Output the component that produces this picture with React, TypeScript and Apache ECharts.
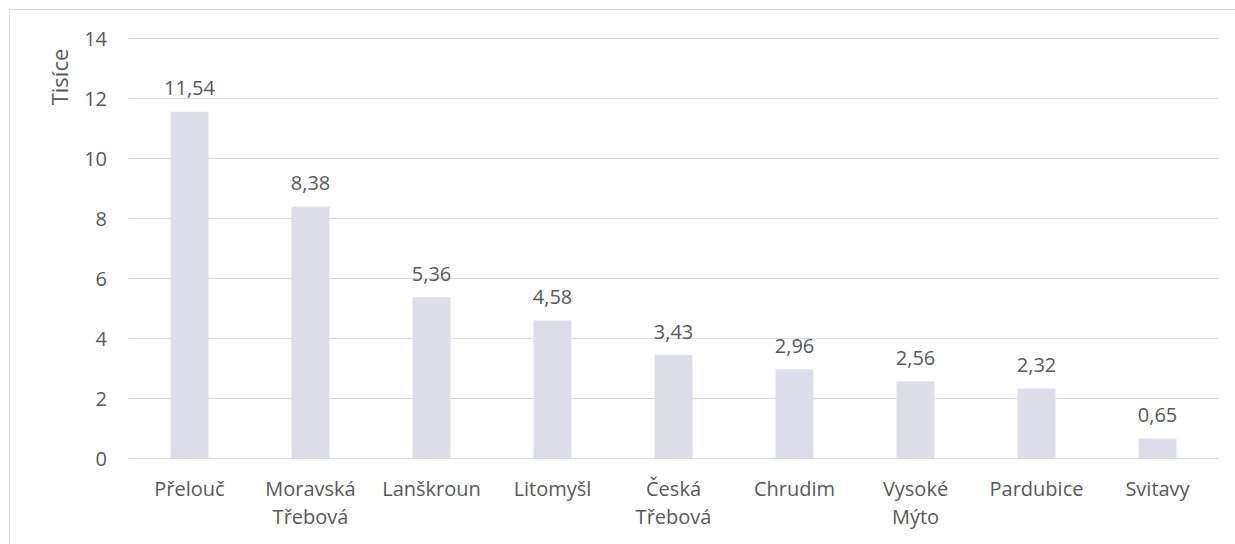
import React, { useEffect, useRef } from "react";
import * as echarts from "echarts";

const categories = [
  "Přelouč",
  "Moravská\nTřebová",
  "Lanškroun",
  "Litomyšl",
  "Česká\nTřebová",
  "Chrudim",
  "Vysoké\nMýto",
  "Pardubice",
  "Svitavy",
];
const values = [11.54, 8.38, 5.36, 4.58, 3.43, 2.96, 2.56, 2.32, 0.65];
const axisTitle = "Tisíce";

const FONT = "'Open Sans', sans-serif";
const TXT = "#595959";

export default function App() {
  const ref = useRef<HTMLDivElement>(null);
  useEffect(() => {
    if (!ref.current) return;
    const chart = echarts.init(ref.current, null, { renderer: "svg" });
    chart.setOption({
      animation: false,
      backgroundColor: "#ffffff",
      grid: { left: 129, right: 17, top: 38, bottom: 86 },
      xAxis: {
        type: "category",
        data: categories,
        axisLine: { lineStyle: { color: "#d9d9d9", width: 1 } },
        axisTick: { show: false },
        axisLabel: {
          color: TXT,
          fontFamily: FONT,
          fontSize: 20,
          lineHeight: 28,
          margin: 16,
          interval: 0,
        },
      },
      yAxis: {
        type: "value",
        min: 0,
        max: 14,
        interval: 2,
        axisLine: { show: false },
        axisTick: { show: false },
        splitLine: { lineStyle: { color: "#d9d9d9", width: 1 } },
        axisLabel: { color: TXT, fontFamily: FONT, fontSize: 20, margin: 22 },
      },
      graphic: [
        {
          type: "rect",
          shape: { x: 9.5, y: 9.5, width: 1240, height: 560 },
          style: { fill: "none", stroke: "#d9d9d9", lineWidth: 1 },
          silent: true,
        },
        {
          type: "text",
          x: 59,
          y: 77,
          rotation: Math.PI / 2,
          style: {
            text: axisTitle,
            fill: TXT,
            font: `22px ${FONT}`,
            align: "center",
            verticalAlign: "middle",
          },
        },
      ],
      series: [
        {
          type: "bar",
          data: values,
          barWidth: 38,
          itemStyle: { color: "#dedeea" },
          label: {
            show: true,
            position: "top",
            distance: 14,
            color: TXT,
            fontFamily: FONT,
            fontSize: 20,
            formatter: (p: any) => p.value.toFixed(2).replace(".", ","),
          },
        },
      ],
    });
    return () => chart.dispose();
  }, []);
  return (
    <div
      ref={ref}
      style={{ position: "fixed", left: 0, top: 0, width: 1235, height: 544 }}
    />
  );
}
